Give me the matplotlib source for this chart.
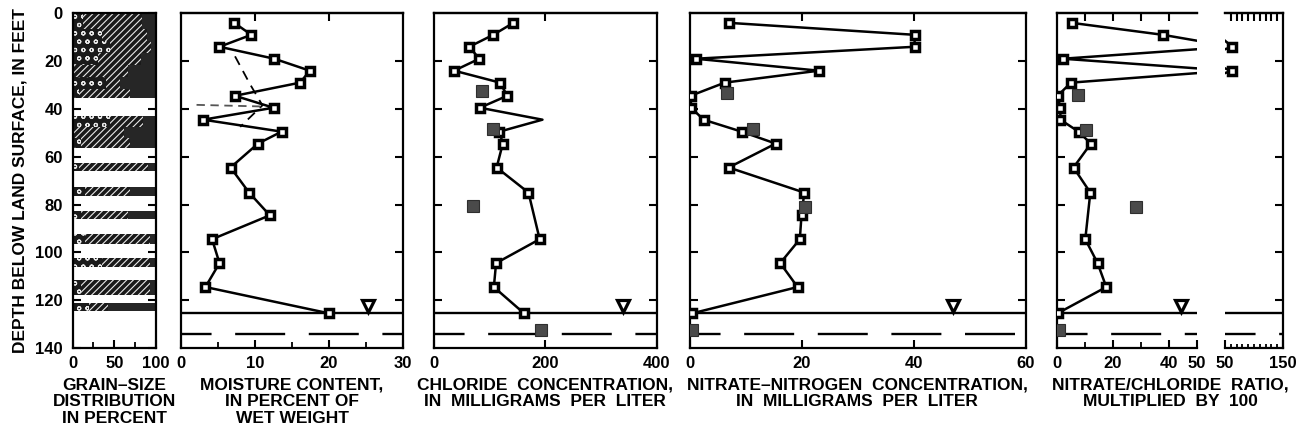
import matplotlib
matplotlib.use('Agg')
import matplotlib.pyplot as plt

plt.rcParams['font.family'] = ['Liberation Sans Narrow', 'Liberation Sans', 'DejaVu Sans']
plt.rcParams['font.weight'] = 'bold'
plt.rcParams['lines.scale_dashes'] = False
plt.rcParams['hatch.linewidth'] = 0.8

# depth of each core sample, feet below land surface
depth = [4, 9, 14, 19, 24, 29, 34.5, 39.5, 44.5, 49.5, 54.5, 64.5, 75, 84.5, 94.5, 104.5, 114.5, 125.5]
moisture = [7.2, 9.5, 5.2, 12.6, 17.4, 16.1, 7.3, 12.5, 3.0, 13.6, 10.4, 6.7, 9.2, 12.0, 4.2, 5.2, 3.3, 20.0]
chloride = [143, 107, 64, 82, 37, 119, 132, 83, 195, 118, 124, 113, 170, None, 190, 112, 108, 162]
nitrate = [7.1, 40.2, 40.2, 1.1, 23.1, 6.3, 0.2, 0.3, 2.5, 9.3, 15.4, 7.0, 20.5, 20.0, 19.7, 16.2, 19.3, 0.5]
ratio = [5.3, 37.8, 62.5, 2.1, 61.5, 5.0, 0.2, 1.2, 1.2, 7.7, 12.1, 5.9, 11.9, None, 10.1, 14.5, 17.6, 0.2]

# second set of samples (solid symbols)
chloride2_depth = [32.5, 48.5, 80.5, 132.5]
chloride2 = [86, 106, 70, 193]
nitrate2_depth = [33.5, 48.5, 81, 132.5]
nitrate2 = [6.7, 11.4, 20.6, 0.5]
ratio2_depth = [34, 49, 81, 132.5]
ratio2 = [7.5, 10.4, 28.3, 0.6]

# dashed moisture traces near 40 ft
moist_dash_x = [7.3, 9.3, 11.0, 8.0]
moist_dash_depth = [18, 29.5, 38.5, 47.5]
moist_arrow_x = [2.1, 11.3]
moist_arrow_depth = [38.3, 39.0]

# water levels
water_mark_depth = 122.3
water_mark_x = {'moisture': 25.3, 'chloride': 340, 'nitrate': 47.1, 'ratio': 44.2}
water_table_depth = 125.5
lower_level_depth = 134

# grain-size intervals: top, bottom (ft), gravel %, sand %  (rest is silt and clay)
grain_top = [0, 6.5, 11.5, 16.5, 21.5, 26.5, 31.5, 43, 47.5, 52, 62.5, 72.5, 82.5, 92.5, 102.5, 111.5, 121]
grain_bot = [6.5, 11.5, 16.5, 21.5, 26.5, 31.5, 35.5, 47.5, 52, 56.5, 66, 76.5, 86, 96.5, 106, 118, 124.5]
gravel = [12, 35, 45, 30, 0, 40, 8, 45, 0, 10, 8, 15, 10, 15, 35, 10, 20]
sand = [71, 54, 49, 52, 66, 17, 61, 40, 62, 59, 82, 54, 57, 78, 58, 83, 23]

W, H = 1308, 438
TOP, BOT = 13.3, 348.0


def rect(x0, x1):
    return [x0 / W, 1 - BOT / H, (x1 - x0) / W, (BOT - TOP) / H]


fig = plt.figure(figsize=(W / 100, H / 100), dpi=100)
fig.patch.set_facecolor('white')

ax_g = fig.add_axes(rect(72.5, 156))
ax_m = fig.add_axes(rect(181, 403))
ax_c = fig.add_axes(rect(433.5, 657))
ax_n = fig.add_axes(rect(689.5, 1025.5))
ax_ra = fig.add_axes(rect(1057, 1197))
ax_rb = fig.add_axes(rect(1225, 1283))

TICK_FONT = dict(fontsize=12, fontweight='bold')


def style(ax, xlim, labels, minor=(), top=(), left=True, right=True):
    ax.set_xlim(xlim)
    ax.set_ylim(140, 0)
    ax.set_yticks([20, 40, 60, 80, 100, 120])
    ax.set_yticklabels([])
    ax.tick_params(axis='y', direction='in', left=left, right=right,
                   length=6, width=1.5)
    ax.set_xticks(labels)
    ax.set_xticklabels([str(v) for v in labels], **TICK_FONT)
    ax.set_xticks(list(minor), minor=True)
    ax.tick_params(axis='x', which='major', direction='in', length=6, width=1.5, pad=6)
    ax.tick_params(axis='x', which='minor', direction='in', length=4, width=1.3)
    for s in ax.spines.values():
        s.set_linewidth(1.6)
    if top:
        sec = ax.secondary_xaxis('top')
        sec.set_xticks(list(top))
        sec.set_xticklabels([])
        sec.tick_params(direction='in', length=6, width=1.5)
        sec.spines['top'].set_linewidth(1.6)
    return ax


def profile(ax, x, d, no_marker=()):
    pts = [(xi, di) for xi, di in zip(x, d) if xi is not None]
    xs = [p[0] for p in pts]
    ds = [p[1] for p in pts]
    ax.plot(xs, ds, color='black', lw=1.8, zorder=3)
    keep = [i for i in range(len(pts)) if i not in no_marker]
    ax.plot([xs[i] for i in keep], [ds[i] for i in keep], ls='none', marker='s',
            ms=6.2, mfc='white', mec='black', mew=2.5, zorder=4)


def solid_set(ax, x, d):
    ax.plot(x, d, ls='none', marker='s', ms=8, mfc='#4a4a4a', mec='#2e2e2e',
            mew=0.8, zorder=5)


def water(ax, mark_x=None):
    ax.axhline(water_table_depth, color='black', lw=1.7, zorder=2)
    ax.axhline(lower_level_depth, color='black', lw=1.7, ls=(14, (36, 17)), zorder=2)
    if mark_x is not None:
        ax.plot([mark_x], [water_mark_depth], ls='none', marker='v', ms=8,
                mfc='white', mec='black', mew=2.3, zorder=4)


# grain-size column
mid = [(t + b) / 2 for t, b in zip(grain_top, grain_bot)]
hgt = [b - t for t, b in zip(grain_top, grain_bot)]
fines = [100 - g - s for g, s in zip(gravel, sand)]
left_sand = gravel
left_fines = [g + s for g, s in zip(gravel, sand)]
ax_g.barh(mid, gravel, height=hgt, left=0, color='#1a1a1a', edgecolor='#e8e8e8',
          lw=0, hatch='oo', zorder=2)
ax_g.barh(mid, sand, height=hgt, left=left_sand, color='#1a1a1a', edgecolor='#e8e8e8',
          lw=0, hatch='/////', zorder=2)
ax_g.barh(mid, fines, height=hgt, left=left_fines, color='#262626', lw=0, zorder=2)
style(ax_g, (0, 100), [0, 50, 100], minor=[25, 75])
ax_g.set_yticks([0, 20, 40, 60, 80, 100, 120, 140])
ax_g.set_yticklabels([str(v) for v in [0, 20, 40, 60, 80, 100, 120, 140]], **TICK_FONT)
ax_g.tick_params(axis='y', pad=7)

# moisture content
style(ax_m, (0, 30), [0, 10, 20, 30], minor=[5, 15, 25], top=[10, 20])
ax_m.plot(moist_dash_x, moist_dash_depth, color='black', lw=1.3, ls=(0, (7, 5)), zorder=2)
ax_m.plot(moist_arrow_x, moist_arrow_depth, color='#555555', lw=1.3, ls=(0, (6, 4)), zorder=2)
profile(ax_m, moisture, depth)
water(ax_m, water_mark_x['moisture'])

# chloride
style(ax_c, (0, 400), [0, 200, 400], top=[200])
profile(ax_c, chloride, depth, no_marker=[8])
solid_set(ax_c, chloride2, chloride2_depth)
water(ax_c, water_mark_x['chloride'])

# nitrate-nitrogen
style(ax_n, (0, 60), [0, 20, 40, 60], top=[20, 40])
profile(ax_n, nitrate, depth)
solid_set(ax_n, nitrate2, nitrate2_depth)
water(ax_n, water_mark_x['nitrate'])

# nitrate/chloride ratio, broken scale
style(ax_ra, (0, 50), [0, 20, 40, 50], minor=[10, 30], top=[10, 20, 30, 40], right=False)
ax_ra.spines['right'].set_visible(False)
style(ax_rb, (50, 150), [50, 150], minor=range(60, 150, 10),
      top=list(range(60, 150, 10)), left=False)
ax_rb.spines['left'].set_visible(False)
ax_rb.tick_params(axis='x', which='minor', length=3)
for ax in (ax_ra, ax_rb):
    profile(ax, ratio, depth)
    solid_set(ax, ratio2, ratio2_depth)
water(ax_ra, water_mark_x['ratio'])
water(ax_rb)

# labels
fig.text(20 / W, 1 - (TOP + BOT) / 2 / H, 'DEPTH BELOW LAND SURFACE, IN FEET',
         rotation=90, ha='center', va='center', fontsize=12.5, fontweight='bold')

TITLE_FONT = dict(fontsize=12.5, fontweight='bold', ha='center', va='top', linespacing=1.12)
ty = 1 - 378 / H
fig.text(114 / W, ty, 'GRAIN–SIZE\nDISTRIBUTION\nIN PERCENT', **TITLE_FONT)
fig.text(292 / W, ty, 'MOISTURE CONTENT,\nIN PERCENT OF\nWET WEIGHT', **TITLE_FONT)
fig.text(545 / W, ty, 'CHLORIDE  CONCENTRATION,\nIN  MILLIGRAMS  PER  LITER', **TITLE_FONT)
fig.text(857 / W, ty, 'NITRATE–NITROGEN  CONCENTRATION,\nIN  MILLIGRAMS  PER  LITER', **TITLE_FONT)
fig.text(1170 / W, ty, 'NITRATE/CHLORIDE  RATIO,\nMULTIPLIED  BY  100', **TITLE_FONT)

fig.savefig('out.png', dpi=100, facecolor='white')
